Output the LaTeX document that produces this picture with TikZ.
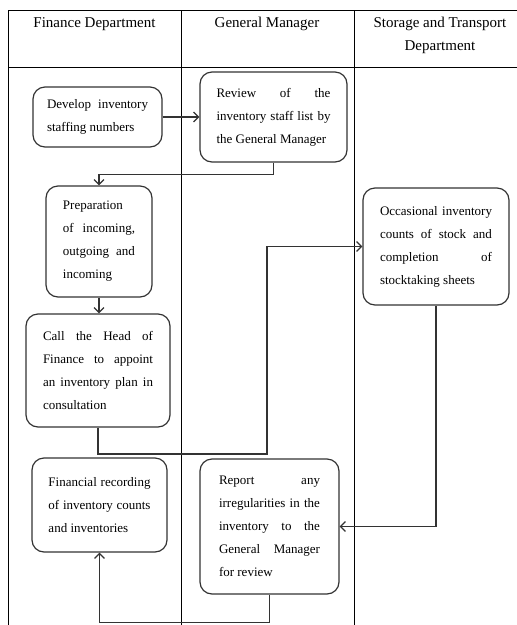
\documentclass[tikz,border=0pt]{standalone}
\usepackage{fontspec}
\setmainfont{Liberation Serif}
\usetikzlibrary{arrows.meta}
\usepackage{xcolor}

\begin{document}
\begin{tikzpicture}[x=1pt,y=-1pt]
	\tikzstyle{lane}=[draw,line width=0.8pt,black]
	\tikzstyle{head}=[font=\fontsize{15}{23}\selectfont,align=center,inner sep=0pt,anchor=base]
	\tikzstyle{task}=[draw=black!80,line width=1.2pt,rounded corners=12pt,align=justify,inner sep=0pt,font=\fontsize{13}{23}\selectfont]
	\tikzstyle{edge}=[draw,line width=1.2pt,black!80,-{Straight Barb[length=5pt,width=10pt]}]

	\useasboundingbox (0,0) rectangle (517,625);

	\draw[lane] (517,10) -- (8,10) -- (8,625);
	\draw[lane] (8,67) -- (517,67);
	\draw[lane] (181,10) -- (181,625);
	\draw[lane] (354,10) -- (354,625);

	\node[head] (h1) at (94.5,27) {Finance Department};
	\node[head] (h2) at (267,27) {General Manager};
	\node[head] (h3) at (440,50) {Storage and Transport\\ Department};

	\node[task,text width=101pt,minimum width=129pt,minimum height=60pt] (dev) at (97.5,117)
		{Develop\hfill inventory\\ staffing numbers};
	\node[task,text width=114pt,minimum width=147pt,minimum height=90pt] (rev) at (273.5,117)
		{Review\hfill of\hfill the\\ inventory\hfill staff\hfill list\hfill by\\ the General Manager};
	\node[task,text width=72pt,minimum width=106pt,minimum height=111pt] (prep) at (99,241.5)
		{Preparation\\ of\hfill incoming,\\ outgoing\hfill and\\ incoming};
	\node[task,text width=112pt,minimum width=146pt,minimum height=117pt] (occ) at (436,246.5)
		{Occasional\hfill inventory\\ counts\hfill of\hfill stock\hfill and\\ completion\hfill of\\ stocktaking sheets};
	\node[task,text width=110pt,minimum width=144pt,minimum height=113pt] (call) at (98,370.5)
		{Call\hfill the\hfill Head\hfill of\\ Finance\hfill to\hfill appoint\\ an\hfill inventory\hfill plan\hfill in\\ consultation};
	\node[task,text width=102pt,minimum width=135pt,minimum height=94pt] (fin) at (99.5,505)
		{Financial\hfill recording\\ of\hfill inventory\hfill counts\\ and inventories};
	\node[task,text width=101pt,minimum width=139pt,minimum height=135pt] (rep) at (269.5,526.5)
		{Report\hfill any\\ irregularities\hfill in\hfill the\\ inventory\hfill to\hfill the\\ General\hfill Manager\\ for review};

	\coordinate (bend) at (267,454);

	\draw[edge] (dev.east) -- (rev.west);
	\draw[edge] (rev.south) -- ++(0,12) -| (prep.north);
	\draw[edge] (prep.south) -- (prep.south |- call.north);
	\draw[edge] (call.south) |- (bend) |- (occ.west);
	\draw[edge] (occ.south) |- (rep.east);
	\draw[edge] (rep.south) -- ++(0,28) -| (fin.south);
\end{tikzpicture}
\end{document}
